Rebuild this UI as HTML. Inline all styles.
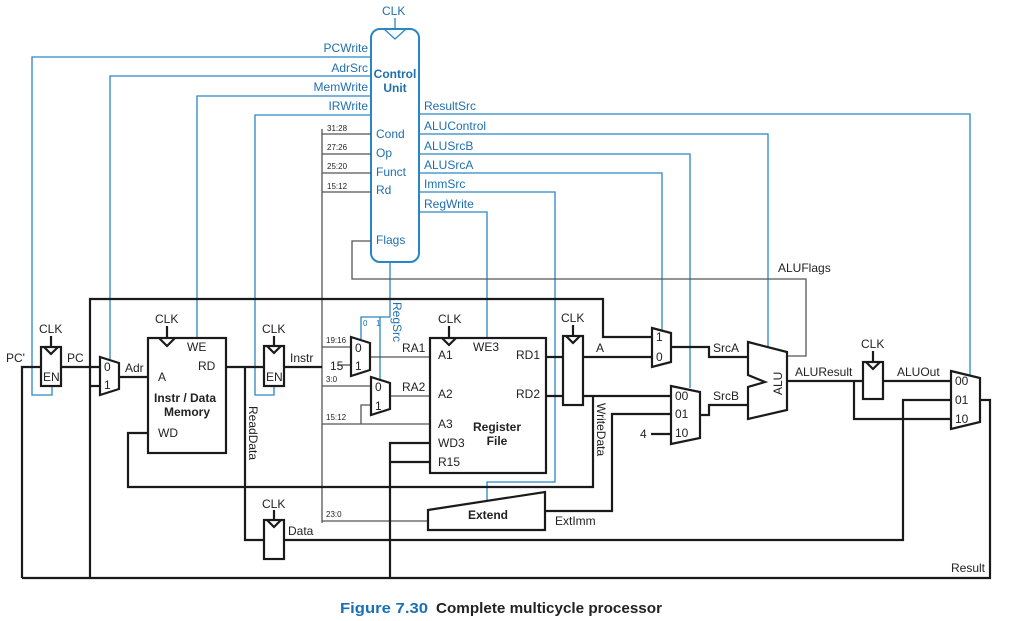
<!DOCTYPE html>
<html><head><meta charset="utf-8"><style>
html,body{margin:0;padding:0;background:#fff}
svg{display:block}
text{font-family:"Liberation Sans",sans-serif}
.k{stroke:#1a1a1a;stroke-width:2.2;fill:none}
.g{stroke:#555;stroke-width:1.3;fill:none}
.b{stroke:#2a86c3;stroke-width:1.3;fill:none}
.bt{fill:#1f6fae;font-size:12px}
.t{fill:#222;font-size:12px}
.s{fill:#222;font-size:8px}
.bx{fill:#fff;stroke:#1a1a1a;stroke-width:2.2}
</style></head><body>
<svg width="1023" height="621" viewBox="0 0 1023 621" xmlns="http://www.w3.org/2000/svg">
<!-- Control unit -->
<rect x="371" y="29" width="48" height="233" rx="9" fill="#fff" stroke="#2a86c3" stroke-width="2"/>
<polyline class="b" points="384,29 395,39 406,29" stroke-width="1.5"/>
<line class="b" x1="395" y1="18" x2="395" y2="29"/>
<text class="bt" x="382" y="15">CLK</text>
<text class="bt" x="395" y="78" text-anchor="middle" font-weight="bold">Control</text>
<text class="bt" x="395" y="92" text-anchor="middle" font-weight="bold">Unit</text>
<text class="bt" x="376" y="138">Cond</text>
<text class="bt" x="376" y="157">Op</text>
<text class="bt" x="376" y="176">Funct</text>
<text class="bt" x="376" y="194">Rd</text>
<text class="bt" x="376" y="244">Flags</text>
<!-- left control signals -->
<text class="bt" x="368" y="52" text-anchor="end">PCWrite</text>
<text class="bt" x="368" y="72" text-anchor="end">AdrSrc</text>
<text class="bt" x="368" y="91" text-anchor="end">MemWrite</text>
<text class="bt" x="368" y="110" text-anchor="end">IRWrite</text>
<polyline class="b" points="371,57 32,57 32,395 52,395 52,387"/>
<polyline class="b" points="371,76 110,76 110,360"/>
<polyline class="b" points="371,96 197,96 197,338"/>
<polyline class="b" points="371,115 255,115 255,395 274,395 274,386"/>
<!-- right control signals -->
<text class="bt" x="424" y="110">ResultSrc</text>
<text class="bt" x="424" y="130">ALUControl</text>
<text class="bt" x="424" y="150">ALUSrcB</text>
<text class="bt" x="424" y="169">ALUSrcA</text>
<text class="bt" x="424" y="188">ImmSrc</text>
<text class="bt" x="424" y="208">RegWrite</text>
<polyline class="b" points="419,114 970,114 970,375"/>
<polyline class="b" points="419,134 768,134 768,347"/>
<polyline class="b" points="419,154 690,154 690,388"/>
<polyline class="b" points="419,173 662,173 662,331"/>
<polyline class="b" points="419,192 555,192 555,482 487,482 487,500"/>
<polyline class="b" points="419,212 487,212 487,338"/>
<!-- RegSrc -->
<polyline class="b" points="390,262 390,317 361,317 361,339"/>
<polyline class="b" points="380,317 380,379"/>
<text fill="#1f6fae" font-size="8" x="363" y="326">0</text>
<text fill="#1f6fae" font-size="8" x="376" y="326">1</text>
<text class="bt" transform="translate(393,302) rotate(90)">RegSrc</text>
<!-- Flags loop -->
<polyline class="g" points="371,241 352,241 352,279 806,279 806,356 787,356"/>
<text class="t" x="778" y="272">ALUFlags</text>
<!-- instr bus -->
<line class="g" x1="322" y1="129" x2="322" y2="523" stroke="#333" stroke-width="1.8"/>
<line class="g" x1="322" y1="134" x2="371" y2="134"/>
<line class="g" x1="322" y1="154" x2="371" y2="154"/>
<line class="g" x1="322" y1="173" x2="371" y2="173"/>
<line class="g" x1="322" y1="192" x2="371" y2="192"/>
<text class="s" x="327" y="131">31:28</text>
<text class="s" x="327" y="150">27:26</text>
<text class="s" x="327" y="169">25:20</text>
<text class="s" x="327" y="189">15:12</text>
<!-- black wires -->
<polyline class="k" points="90,578 90,299 603,299 603,337 652,337"/>
<polyline class="k" points="22,578 22,367 41,367"/>
<polyline class="k" points="61,367 100,367"/>
<polyline class="k" points="90,386 100,386"/>
<polyline class="k" points="119,377 148,377"/>
<polyline class="k" points="148,433 128,433 128,487 593,487 593,396"/>
<polyline class="k" points="226,367 264,367"/>
<polyline class="k" points="245,367 245,540 264,540"/>
<polyline class="k" points="284,540 903,540 903,400 951,400"/>
<polyline class="k" points="284,367 322,367"/>
<polyline class="g" points="322,347 351,347"/>
<polyline class="g" points="338,365 351,365"/>
<polyline class="g" points="322,386 371,386"/>
<polyline class="g" points="322,424 430,424"/>
<polyline class="g" points="361,424 361,405 371,405"/>
<polyline class="g" points="370,357 430,357"/>
<polyline class="g" points="390,396 430,396"/>
<polyline class="g" points="322,521 430,521"/>
<polyline class="k" points="390,578 390,443 430,443"/>
<polyline class="k" points="390,462 430,462"/>
<polyline class="k" points="22,578 990,578 990,400 980,400"/>
<polyline class="k" points="546,357 563,357"/>
<polyline class="k" points="546,396 563,396"/>
<polyline class="k" points="583,357 652,357"/>
<polyline class="k" points="583,396 671,396"/>
<polyline class="k" points="545,511 612,511 612,414 671,414"/>
<polyline class="k" points="651,434 671,434"/>
<polyline class="k" points="671,347 709,347 709,357 748,357"/>
<polyline class="k" points="700,415 709,415 709,405 748,405"/>
<polyline class="k" points="787,381 863,381"/>
<polyline class="k" points="854,381 854,419 951,419"/>
<polyline class="k" points="883,381 951,381"/>
<!-- text labels -->
<text class="t" x="6" y="362">PC'</text>
<text class="t" x="67" y="362">PC</text>
<text class="t" x="125" y="372">Adr</text>
<text class="t" x="290" y="362">Instr</text>
<text class="t" x="288" y="535">Data</text>
<text class="t" transform="translate(249,406) rotate(90)">ReadData</text>
<text class="t" transform="translate(597,403) rotate(90)">WriteData</text>
<text class="t" x="330" y="370">15</text>
<text class="s" x="326" y="343">19:16</text>
<text class="s" x="326" y="382">3:0</text>
<text class="s" x="326" y="420">15:12</text>
<text class="s" x="326" y="517">23:0</text>
<text class="t" x="402" y="352">RA1</text>
<text class="t" x="402" y="391">RA2</text>
<text class="t" x="596" y="352">A</text>
<text class="t" x="713" y="352">SrcA</text>
<text class="t" x="713" y="400">SrcB</text>
<text class="t" x="640" y="438">4</text>
<text class="t" x="555" y="525">ExtImm</text>
<text class="t" x="795" y="376">ALUResult</text>
<text class="t" x="897" y="376">ALUOut</text>
<text class="t" x="951" y="572" font-size="11">Result</text>
<!-- PC register -->
<rect class="bx" x="41" y="347" width="20" height="39"/>
<polyline class="k" stroke-width="1.3" points="44,347 51,354 58,347"/>
<line class="k" stroke-width="1.3" x1="51" y1="336" x2="51" y2="347"/>
<text class="t" x="39" y="333">CLK</text>
<text class="t" x="43" y="381" font-size="10">EN</text>
<!-- Adr mux -->
<polygon class="bx" points="100,357 119,363 119,389 100,395"/>
<text class="t" x="104" y="371">0</text>
<text class="t" x="104" y="389">1</text>
<!-- Memory -->
<rect class="bx" x="148" y="338" width="78" height="115"/>
<polyline class="k" stroke-width="1.3" points="159,338 167,346 175,338"/>
<line class="k" stroke-width="1.3" x1="167" y1="326" x2="167" y2="338"/>
<text class="t" x="155" y="323">CLK</text>
<text class="t" x="187" y="351">WE</text>
<text class="t" x="198" y="370">RD</text>
<text class="t" x="158" y="381">A</text>
<text class="t" x="185" y="402" text-anchor="middle" font-weight="bold">Instr / Data</text>
<text class="t" x="187" y="416" text-anchor="middle" font-weight="bold">Memory</text>
<text class="t" x="158" y="437">WD</text>
<!-- IR -->
<rect class="bx" x="264" y="346" width="20" height="40"/>
<polyline class="k" stroke-width="1.3" points="267,346 274,353 281,346"/>
<line class="k" stroke-width="1.3" x1="274" y1="336" x2="274" y2="346"/>
<text class="t" x="262" y="333">CLK</text>
<text class="t" x="266" y="381" font-size="10">EN</text>
<!-- Data reg -->
<rect class="bx" x="264" y="520" width="20" height="39"/>
<polyline class="k" stroke-width="1.3" points="267,520 274,527 281,520"/>
<line class="k" stroke-width="1.3" x1="274" y1="510" x2="274" y2="520"/>
<text class="t" x="262" y="508">CLK</text>
<!-- RA muxes -->
<polygon class="bx" points="351,337 370,343 370,370 351,376"/>
<text class="t" x="355" y="352">0</text>
<text class="t" x="355" y="370">1</text>
<polygon class="bx" points="371,377 390,383 390,409 371,415"/>
<text class="t" x="375" y="391">0</text>
<text class="t" x="375" y="410">1</text>
<!-- Register file -->
<rect class="bx" x="430" y="338" width="116" height="135"/>
<polyline class="k" stroke-width="1.3" points="442,338 449,345 456,338"/>
<line class="k" stroke-width="1.3" x1="449" y1="326" x2="449" y2="338"/>
<text class="t" x="438" y="323">CLK</text>
<text class="t" x="473" y="351">WE3</text>
<text class="t" x="438" y="359">A1</text>
<text class="t" x="438" y="398">A2</text>
<text class="t" x="438" y="428">A3</text>
<text class="t" x="438" y="447">WD3</text>
<text class="t" x="438" y="466">R15</text>
<text class="t" x="540" y="359" text-anchor="end">RD1</text>
<text class="t" x="540" y="398" text-anchor="end">RD2</text>
<text class="t" x="497" y="431" text-anchor="middle" font-weight="bold">Register</text>
<text class="t" x="497" y="445" text-anchor="middle" font-weight="bold">File</text>
<!-- Extend -->
<polygon class="bx" points="428,510 545,492 545,530 428,530"/>
<text class="t" x="488" y="519" text-anchor="middle" font-weight="bold" font-size="11">Extend</text>
<!-- A/B reg -->
<rect class="bx" x="563" y="336" width="20" height="69"/>
<polyline class="k" stroke-width="1.3" points="566,336 573,343 580,336"/>
<line class="k" stroke-width="1.3" x1="573" y1="325" x2="573" y2="336"/>
<text class="t" x="561" y="322">CLK</text>
<!-- SrcA mux -->
<polygon class="bx" points="652,328 671,333 671,362 652,367"/>
<text class="t" x="656" y="341" font-size="11">1</text>
<text class="t" x="656" y="361" font-size="11">0</text>
<!-- SrcB mux -->
<polygon class="bx" points="671,386 700,392 700,438 671,444"/>
<text class="t" x="675" y="400" font-size="10">00</text>
<text class="t" x="675" y="418" font-size="10">01</text>
<text class="t" x="675" y="437" font-size="10">10</text>
<!-- ALU -->
<polygon class="bx" points="748,342 787,352 787,410 748,419 748,387 765,382 748,375"/>
<text class="t" transform="translate(782,395) rotate(-90)" font-size="13">ALU</text>
<!-- ALUOut reg -->
<rect class="bx" x="863" y="362" width="20" height="37"/>
<polyline class="k" stroke-width="1.3" points="866,362 873,369 880,362"/>
<line class="k" stroke-width="1.3" x1="873" y1="351" x2="873" y2="362"/>
<text class="t" x="861" y="348">CLK</text>
<!-- Result mux -->
<polygon class="bx" points="951,371 980,378 980,422 951,429"/>
<text class="t" x="955" y="385" font-size="10">00</text>
<text class="t" x="955" y="404" font-size="10">01</text>
<text class="t" x="955" y="423" font-size="10">10</text>
<!-- caption -->
<text x="340" y="613" font-size="15" font-weight="bold" fill="#1a6fb5" textLength="88" lengthAdjust="spacingAndGlyphs">Figure 7.30</text>
<text x="436" y="613" font-size="15" font-weight="bold" fill="#222" textLength="226" lengthAdjust="spacingAndGlyphs">Complete multicycle processor</text>
</svg>
</body></html>
